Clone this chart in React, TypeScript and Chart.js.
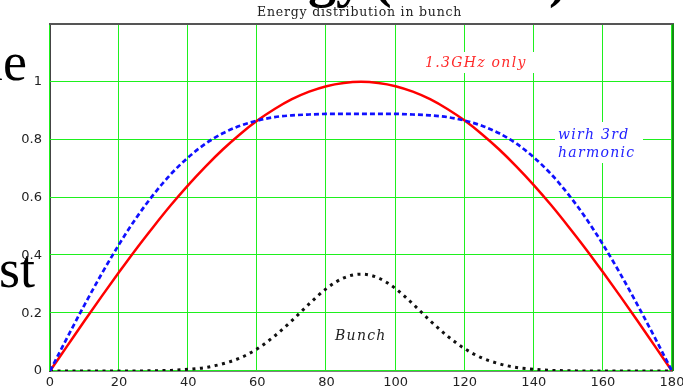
import React, { useEffect, useRef } from "react";
import { Chart, registerables } from "chart.js";

Chart.register(...registerables);

// Phase (degrees)
const phaseDeg = [0, 5, 10, 15, 20, 25, 30, 35, 40, 45, 50, 55, 60, 65, 70, 75, 80, 85, 90,
  95, 100, 105, 110, 115, 120, 125, 130, 135, 140, 145, 150, 155, 160, 165, 170, 175, 180];

// 1.3GHz only (red)
const rfOnly = [0, 0.087, 0.174, 0.259, 0.342, 0.423, 0.5, 0.574, 0.643, 0.707, 0.766, 0.819, 0.866, 0.906, 0.94, 0.966, 0.985, 0.996, 1.0,
  0.996, 0.985, 0.966, 0.94, 0.906, 0.866, 0.819, 0.766, 0.707, 0.643, 0.574, 0.5, 0.423, 0.342, 0.259, 0.174, 0.087, 0];

// with 3rd harmonic (blue)
const rfHarmonic = [0, 0.116, 0.229, 0.337, 0.438, 0.53, 0.611, 0.681, 0.739, 0.786, 0.822, 0.848, 0.866, 0.878, 0.884, 0.887, 0.889, 0.889, 0.889,
  0.889, 0.889, 0.887, 0.884, 0.878, 0.866, 0.848, 0.822, 0.786, 0.739, 0.681, 0.611, 0.53, 0.438, 0.337, 0.229, 0.116, 0];

// Bunch (black dotted)
const bunch = [0, 0, 0, 0, 0, 0, 0.001, 0.002, 0.006, 0.012, 0.025, 0.045, 0.077, 0.121, 0.174, 0.232, 0.285, 0.322, 0.335,
  0.322, 0.285, 0.232, 0.174, 0.121, 0.077, 0.045, 0.025, 0.012, 0.006, 0.002, 0.001, 0, 0, 0, 0, 0, 0];

const xTicks = [0, 20, 40, 60, 80, 100, 120, 140, 160, 180];
const yTicks = [0, 0.2, 0.4, 0.6, 0.8, 1, 1.2];
const xMin = 0;
const xMax = 180;
const yMin = 0;
const yMax = 1.2;

const titleText = "Energy distribution in bunch";
const labelRf = "1.3GHz only";
const labelHarm1 = "wirh 3rd";
const labelHarm2 = "harmonic";
const labelBunch = "Bunch";

const GRID = "#1ef01e";

export default function App() {
  const ref = useRef<HTMLCanvasElement | null>(null);

  useEffect(() => {
    const canvas = ref.current;
    if (!canvas) return;

    const toPts = (arr: number[]) => phaseDeg.map((x, i) => ({ x, y: arr[i] }));

    const decor = {
      id: "decor",
      beforeDraw(chart: any) {
        const ctx = chart.ctx as CanvasRenderingContext2D;
        ctx.save();
        ctx.fillStyle = "#ffffff";
        ctx.fillRect(0, 0, chart.width, chart.height);
        // background slide text fragments
        ctx.fillStyle = "#000";
        ctx.textBaseline = "alphabetic";
        ctx.textAlign = "left";
        ctx.font = 'bold 56px "Liberation Serif"';
        ctx.fillText("gy", 308, -4);
        ctx.fillText("(", 373, -4);
        ctx.fillText(")", 549, -4);
        ctx.font = '54px "Liberation Serif"';
        ctx.fillText("le", -12, 80);
        ctx.fillText("st", -1, 287);
        // title
        ctx.fillStyle = "#222";
        (ctx as any).letterSpacing = "0.8px";
        ctx.font = '12.5px "DejaVu Serif"';
        ctx.fillText(titleText, 257, 16);
        ctx.restore();
      },
      beforeDatasetsDraw(chart: any) {
        const ctx = chart.ctx as CanvasRenderingContext2D;
        const a = chart.chartArea;
        const xs = chart.scales.x;
        const ys = chart.scales.y;
        ctx.save();
        // grid lines
        ctx.strokeStyle = GRID;
        ctx.lineWidth = 1;
        ctx.beginPath();
        xTicks.forEach((v) => {
          const px = Math.round(xs.getPixelForValue(v)) - 0.5;
          ctx.moveTo(px, a.top);
          ctx.lineTo(px, a.bottom);
        });
        yTicks.forEach((v) => {
          const py = Math.round(ys.getPixelForValue(v)) - 0.5;
          ctx.moveTo(a.left, py);
          ctx.lineTo(a.right, py);
        });
        ctx.stroke();
        // label boxes
        ctx.fillStyle = "#ffffff";
        ctx.fillRect(420, 52, 116, 21);
        ctx.fillRect(555, 122, 88, 41);
        ctx.fillRect(332, 326, 58, 18);
        (ctx as any).letterSpacing = "1.3px";
        ctx.font = 'italic 14px "DejaVu Serif"';
        ctx.textBaseline = "alphabetic";
        ctx.textAlign = "left";
        ctx.fillStyle = "#ff2a2a";
        ctx.fillText(labelRf, 425, 67);
        ctx.fillStyle = "#2222ff";
        ctx.fillText(labelHarm1, 558, 139);
        ctx.fillText(labelHarm2, 558, 157);
        ctx.fillStyle = "#222";
        ctx.fillText(labelBunch, 335, 340);
        ctx.restore();
      },
      afterDraw(chart: any) {
        const ctx = chart.ctx as CanvasRenderingContext2D;
        const a = chart.chartArea;
        ctx.save();
        ctx.strokeStyle = "#555";
        ctx.lineWidth = 2;
        ctx.beginPath();
        ctx.moveTo(a.left - 1, a.top);
        ctx.lineTo(a.right + 2, a.top);
        ctx.stroke();
        ctx.lineWidth = 2;
        ctx.strokeStyle = "#148c14";
        ctx.beginPath();
        ctx.moveTo(a.right + 1, a.top);
        ctx.lineTo(a.right + 1, a.bottom);
        ctx.stroke();
        ctx.restore();
      },
    };

    const chart = new Chart(canvas, {
      type: "line",
      data: {
        datasets: [
          {
            label: "harmonic",
            data: toPts(rfHarmonic),
            borderColor: "#1010ff",
            borderWidth: 2.7,
            borderDash: [5, 3],
            pointRadius: 0,
            cubicInterpolationMode: "monotone",
            fill: false,
          },
          {
            label: "rf",
            data: toPts(rfOnly),
            borderColor: "#ff0000",
            borderWidth: 2.5,
            pointRadius: 0,
            cubicInterpolationMode: "monotone",
            fill: false,
          },
          {
            label: "bunch",
            data: toPts(bunch),
            borderColor: "#111111",
            borderWidth: 3,
            borderDash: [3, 4.5],
            pointRadius: 0,
            cubicInterpolationMode: "monotone",
            fill: false,
          },
        ],
      },
      options: {
        responsive: false,
        animation: false,
        devicePixelRatio: 1,
        layout: { autoPadding: false, padding: { top: 24, right: 11, left: 0, bottom: 0 } },
        plugins: { legend: { display: false }, tooltip: { enabled: false }, title: { display: false } },
        scales: {
          x: {
            type: "linear",
            min: xMin,
            max: xMax,
            afterFit: (s: any) => { s.height = 17; s.paddingLeft = 0; s.paddingRight = 0; },
            afterBuildTicks: (s: any) => { s.ticks = xTicks.map((v) => ({ value: v })); },
            ticks: {
              autoSkip: false,
              maxRotation: 0,
              padding: 4,
              color: "#222",
              font: { family: "DejaVu Sans", size: 13 },
            },
            grid: { display: false, drawTicks: false },
            border: { color: "#808080", width: 2 },
          },
          y: {
            min: yMin,
            max: yMax,
            afterFit: (s: any) => { s.width = 50; s.paddingTop = 0; s.paddingBottom = 0; },
            afterBuildTicks: (s: any) => { s.ticks = yTicks.map((v) => ({ value: v })); },
            ticks: {
              padding: 8,
              color: "#222",
              font: { family: "DejaVu Sans", size: 13 },
              callback: (v: any) => (Number(v) > 1.05 ? "" : String(Math.round(Number(v) * 10) / 10)),
            },
            grid: { display: false, drawTicks: false },
            border: { color: "#444", width: 2 },
          },
        },
      },
      plugins: [decor],
    } as any);

    return () => chart.destroy();
  }, []);

  return (
    <div style={{ position: "fixed", left: 0, top: 0, width: 683, height: 388, overflow: "hidden", background: "#fff" }}>
      <canvas ref={ref} width={683} height={388} style={{ display: "block", width: 683, height: 388 }} />
    </div>
  );
}
